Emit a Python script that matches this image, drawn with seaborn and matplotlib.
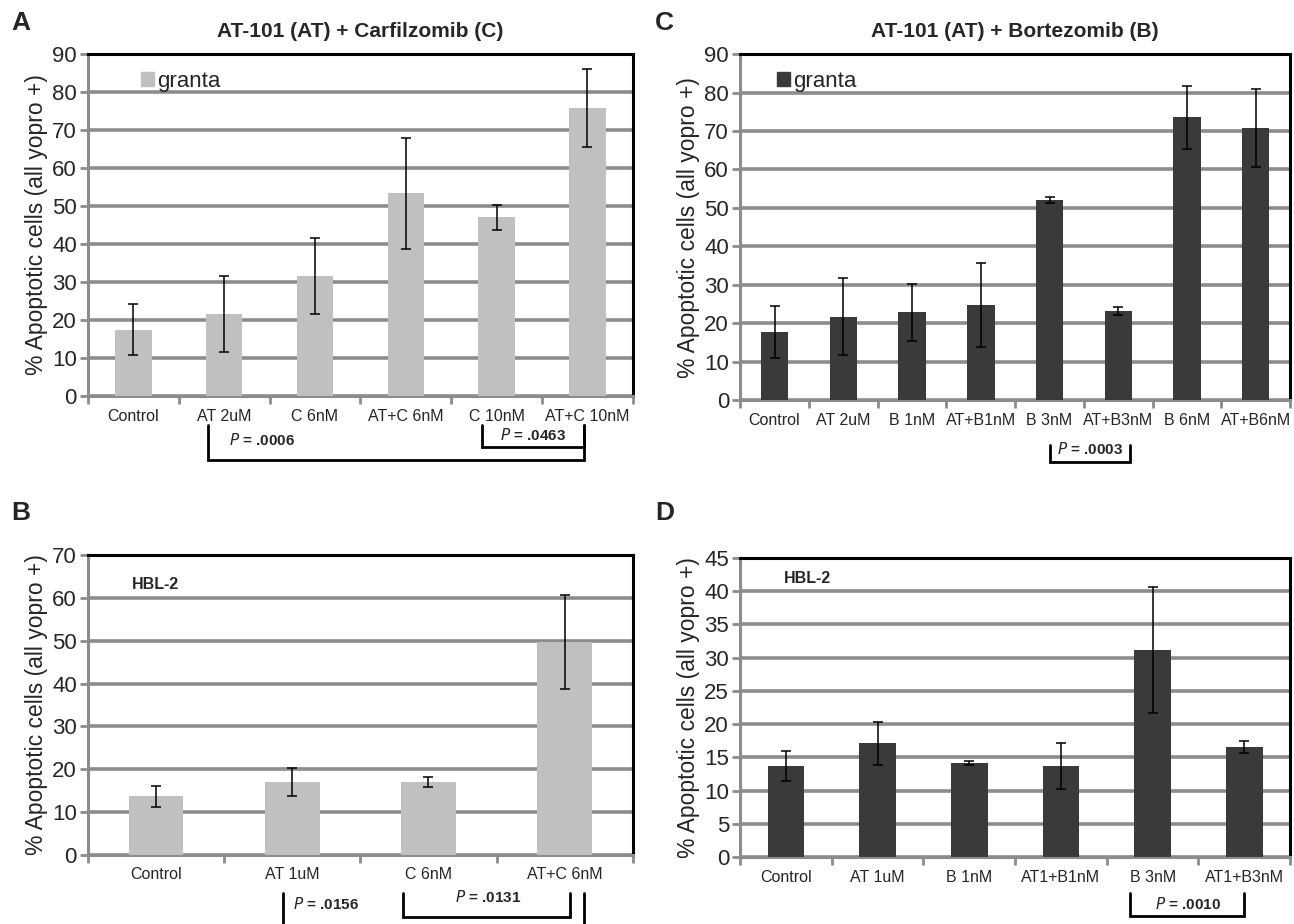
import numpy as np
import matplotlib
matplotlib.use("Agg")
import matplotlib.pyplot as plt
import matplotlib.transforms as mtransforms
from matplotlib.patches import Patch
import seaborn as sns

# panel A: AT-101 + Carfilzomib, granta
a_labels = ["Control", "AT 2uM", "C 6nM", "AT+C 6nM", "C 10nM", "AT+C 10nM"]
a_values = [17.5, 21.5, 31.7, 53.3, 47.0, 75.7]
a_err = [6.8, 10.0, 10.0, 14.5, 3.3, 10.3]

# panel B: AT-101 + Carfilzomib, HBL-2
b_labels = ["Control", "AT 1uM", "C 6nM", "AT+C 6nM"]
b_values = [13.7, 17.0, 17.0, 49.7]
b_err = [2.4, 3.2, 1.2, 10.9]

# panel C: AT-101 + Bortezomib, granta
c_labels = ["Control", "AT 2uM", "B 1nM", "AT+B1nM", "B 3nM", "AT+B3nM", "B 6nM", "AT+B6nM"]
c_values = [17.8, 21.7, 22.8, 24.8, 52.0, 23.2, 73.5, 70.7]
c_err = [6.8, 10.0, 7.4, 10.9, 0.7, 1.0, 8.3, 10.2]

# panel D: AT-101 + Bortezomib, HBL-2
d_labels = ["Control", "AT 1uM", "B 1nM", "AT1+B1nM", "B 3nM", "AT1+B3nM"]
d_values = [13.7, 17.1, 14.1, 13.7, 31.1, 16.5]
d_err = [2.3, 3.2, 0.3, 3.4, 9.5, 0.9]

LIGHT = "#c0c0c0"
DARK = "#3a3a3a"
GRID = "#8c8c8c"

sns.set_style("white")
plt.rcParams["font.family"] = ["Liberation Sans Narrow", "Liberation Sans", "DejaVu Sans"]

fig = plt.figure(figsize=(12.94, 9.24), dpi=100)


def panel(rect, labels, values, errs, color, ymax, step, xfs):
    ax = fig.add_axes(rect)
    n = len(labels)
    sns.barplot(x=labels, y=values, color=color, width=0.4, errorbar=None,
                saturation=1, linewidth=0, ax=ax, zorder=3)
    ax.errorbar(np.arange(n), values, yerr=errs, fmt="none", ecolor="black",
                elinewidth=1.1, capsize=3.5, capthick=1.1, zorder=4)
    ax.set_xlim(-0.5, n - 0.5)
    ax.set_ylim(0, ymax)
    ax.set_yticks(np.arange(0, ymax + step / 2, step))
    ax.yaxis.grid(True, color=GRID, linewidth=2.6, zorder=0)
    ax.set_axisbelow(True)
    for side in ("top", "right"):
        ax.spines[side].set_color("black")
        ax.spines[side].set_linewidth(2.2)
    for side in ("left", "bottom"):
        ax.spines[side].set_color(GRID)
        ax.spines[side].set_linewidth(2.2)
    ax.set_xticks(np.arange(n))
    ax.set_xticklabels(labels, fontsize=xfs)
    ax.set_xticks(np.arange(n + 1) - 0.5, minor=True)
    ax.tick_params(axis="x", which="major", length=0, pad=9)
    ax.tick_params(axis="x", which="minor", length=6, width=2, color=GRID,
                   direction="out", bottom=True)
    ax.tick_params(axis="y", length=6, width=2, color=GRID, labelsize=16,
                   direction="out", left=True, pad=2)
    ax.set_ylabel("% Apoptotic cells (all yopro +)", fontsize=16.5, labelpad=3)
    ax.set_xlabel("")
    return ax


def bracket(ax, x0, x1, ytop, ybot):
    tr = mtransforms.blended_transform_factory(ax.transData, ax.transAxes)
    ax.plot([x0, x0, x1, x1], [ytop, ybot, ybot, ytop], color="black", lw=2,
            transform=tr, clip_on=False, solid_joinstyle="miter")


def vline(ax, x, ytop, ybot):
    tr = mtransforms.blended_transform_factory(ax.transData, ax.transAxes)
    ax.plot([x, x], [ytop, ybot], color="black", lw=2, transform=tr, clip_on=False)


def ptext(ax, x, y, val):
    tr = mtransforms.blended_transform_factory(ax.transData, ax.transAxes)
    ax.text(x, y, "$\\bf{\\it{P}}$ = " + val, transform=tr, ha="center", va="center",
            fontsize=11, fontweight="bold")


# A
axA = panel([0.068, 0.5714, 0.421, 0.3702], a_labels, a_values, a_err, LIGHT, 90, 10, 11.5)
axA.set_title("AT-101 (AT) + Carfilzomib (C)", fontsize=15, fontweight="bold", pad=12)
axA.legend(handles=[Patch(color=LIGHT, label="granta")], loc="upper left",
           bbox_to_anchor=(0.06, 1.01), frameon=False, fontsize=16,
           handlelength=0.6, handleheight=0.6, handletextpad=0.15)
bracket(axA, 0.82, 4.96, -0.085, -0.187)
bracket(axA, 3.84, 4.96, -0.085, -0.149)
ptext(axA, 1.42, -0.13, ".0006")
ptext(axA, 4.4, -0.113, ".0463")

# C
axC = panel([0.572, 0.567, 0.425, 0.3745], c_labels, c_values, c_err, DARK, 90, 10, 11.5)
axC.set_title("AT-101 (AT) + Bortezomib (B)", fontsize=15, fontweight="bold", pad=12)
axC.legend(handles=[Patch(color=DARK, label="granta")], loc="upper left",
           bbox_to_anchor=(0.03, 1.01), frameon=False, fontsize=16,
           handlelength=0.6, handleheight=0.6, handletextpad=0.15)
bracket(axC, 4.0, 5.17, -0.13, -0.18)
ptext(axC, 4.59, -0.14, ".0003")

# B
axB = panel([0.068, 0.0747, 0.421, 0.3247], b_labels, b_values, b_err, LIGHT, 70, 10, 11.5)
axB.text(0.08, 0.9, "HBL-2", transform=axB.transAxes, fontsize=11.5,
         fontweight="bold", va="center")
vline(axB, 0.93, -0.127, -0.25)
bracket(axB, 1.81, 3.04, -0.127, -0.207)
vline(axB, 3.14, -0.127, -0.25)
ptext(axB, 1.25, -0.165, ".0156")
ptext(axB, 2.44, -0.14, ".0131")

# D
axD = panel([0.572, 0.0725, 0.425, 0.3236], d_labels, d_values, d_err, DARK, 45, 5, 11.5)
axD.text(0.08, 0.93, "HBL-2", transform=axD.transAxes, fontsize=11.5,
         fontweight="bold", va="center")
bracket(axD, 3.75, 5.0, -0.12, -0.197)
ptext(axD, 4.39, -0.157, ".0010")

for letter, x, y in [("A", 0.009, 0.975), ("C", 0.506, 0.975),
                     ("B", 0.009, 0.445), ("D", 0.506, 0.445)]:
    fig.text(x, y, letter, fontsize=19, fontweight="bold", va="center")

fig.savefig("out.png", dpi=100)
